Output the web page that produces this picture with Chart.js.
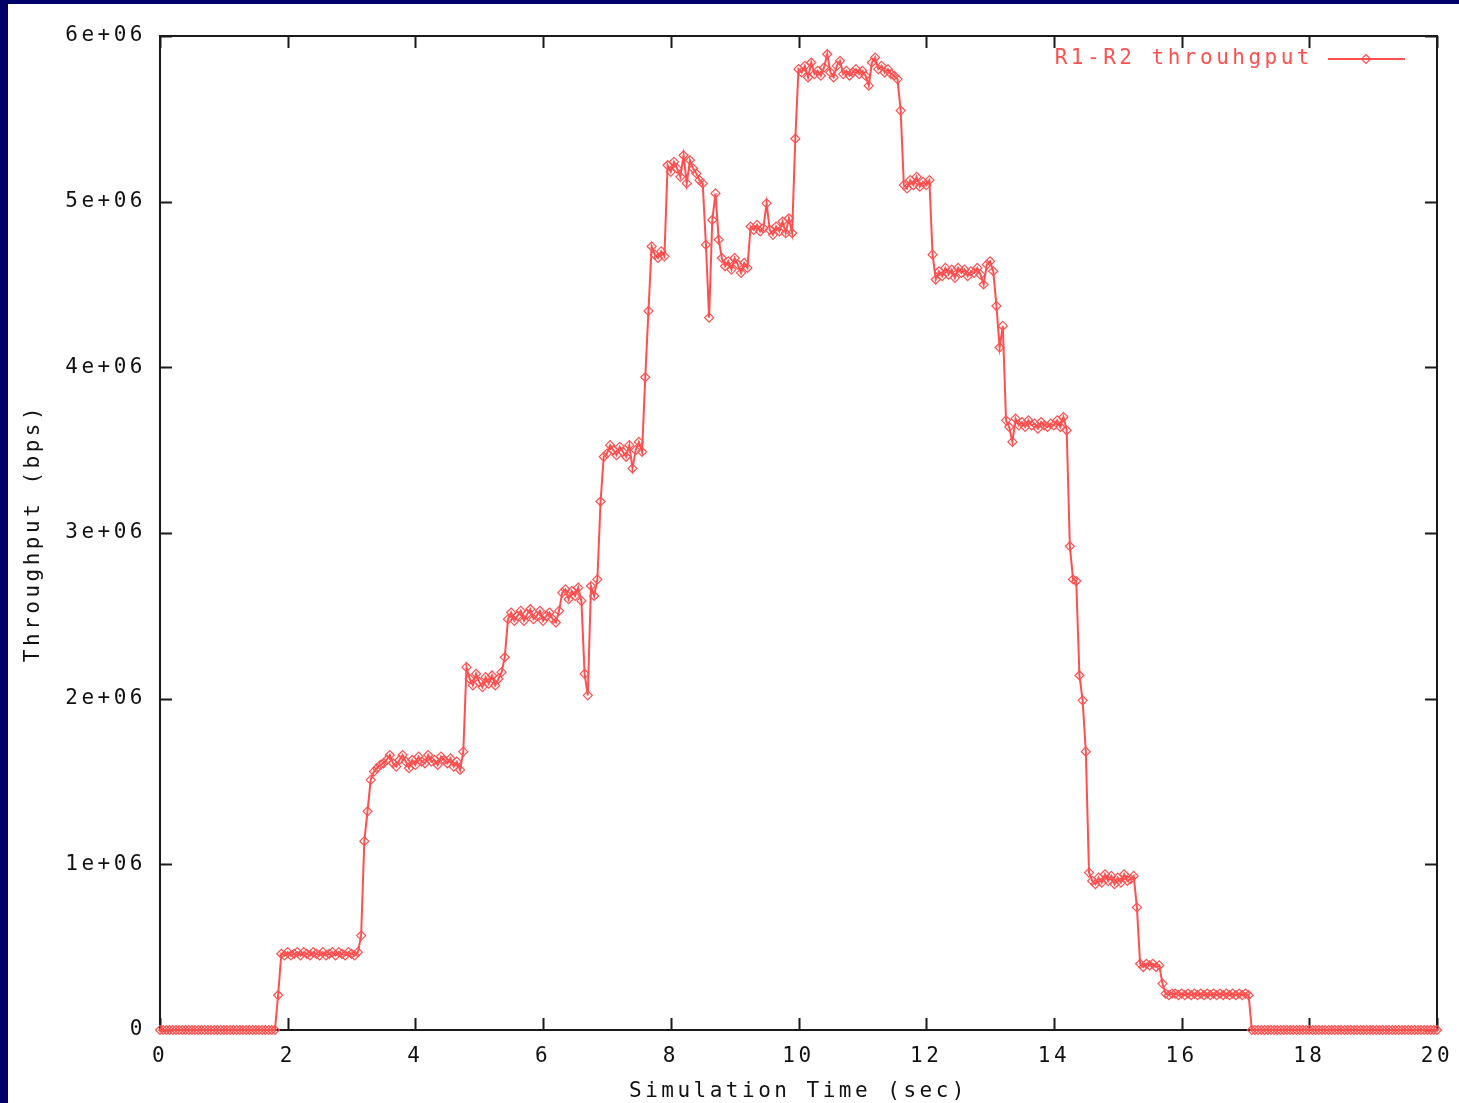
<!DOCTYPE html>
<html lang="en">
  <head>
    <meta charset="UTF-8" />
    <title>R1-R2 throughput</title>
    <script src="https://cdn.jsdelivr.net/npm/chart.js"></script>
    <style>
      html, body {
        margin: 0;
        padding: 0;
        background: #000066;
        overflow: hidden;
      }
      .chart-box {
        position: absolute;
        left: 8px;
        top: 4px;
        width: 1451px;
        height: 1099px;
        background: #fff;
      }
    </style>
  </head>
  <body>
    <div class="chart-box">
      <canvas id="myChart"></canvas>
    </div>
    <script>
      // sample step of the trace (sec)
      const step = 0.05;
      // R1-R2 throughput, in units of 1e6 bps, one row per second
      const throughput = [
        0, 0, 0, 0, 0, 0, 0, 0, 0, 0, 0, 0, 0, 0, 0, 0, 0, 0, 0, 0,
        0, 0, 0, 0, 0, 0, 0, 0, 0, 0, 0, 0, 0, 0, 0, 0, 0, 0.21, 0.46, 0.45,
        0.47, 0.45, 0.46, 0.47, 0.45, 0.47, 0.46, 0.45, 0.47, 0.46, 0.45, 0.47, 0.45, 0.46, 0.47, 0.45, 0.47, 0.46, 0.45, 0.47,
        0.46, 0.45, 0.47, 0.57, 1.14, 1.32, 1.51, 1.56, 1.58, 1.60, 1.61, 1.63, 1.66, 1.61, 1.59, 1.63, 1.66, 1.62, 1.58, 1.63,
        1.60, 1.65, 1.62, 1.61, 1.66, 1.62, 1.63, 1.60, 1.65, 1.63, 1.61, 1.64, 1.59, 1.62, 1.57, 1.68, 2.19, 2.12, 2.08, 2.15,
        2.10, 2.07, 2.13, 2.09, 2.14, 2.08, 2.12, 2.16, 2.25, 2.48, 2.52, 2.47, 2.50, 2.53, 2.47, 2.51, 2.54, 2.48, 2.50, 2.53,
        2.47, 2.50, 2.52, 2.48, 2.46, 2.53, 2.64, 2.66, 2.60, 2.65, 2.62, 2.67, 2.59, 2.15, 2.02, 2.68, 2.62, 2.72, 3.19, 3.46,
        3.48, 3.53, 3.50, 3.47, 3.52, 3.49, 3.46, 3.53, 3.39, 3.50, 3.55, 3.49, 3.94, 4.34, 4.73, 4.68, 4.66, 4.70, 4.67, 5.22,
        5.18, 5.24, 5.20, 5.15, 5.28, 5.11, 5.25, 5.20, 5.17, 5.13, 5.11, 4.74, 4.30, 4.89, 5.05, 4.77, 4.66, 4.61, 4.64, 4.59,
        4.66, 4.62, 4.57, 4.63, 4.60, 4.85, 4.83, 4.86, 4.82, 4.84, 4.99, 4.83, 4.80, 4.85, 4.82, 4.88, 4.81, 4.90, 4.81, 5.38,
        5.80, 5.78, 5.82, 5.75, 5.84, 5.77, 5.79, 5.76, 5.81, 5.89, 5.78, 5.75, 5.82, 5.85, 5.77, 5.79, 5.76, 5.78, 5.80, 5.77,
        5.79, 5.76, 5.70, 5.84, 5.87, 5.80, 5.82, 5.78, 5.80, 5.77, 5.76, 5.74, 5.55, 5.10, 5.08, 5.13, 5.10, 5.15, 5.09, 5.12,
        5.10, 5.13, 4.68, 4.53, 4.58, 4.55, 4.60, 4.56, 4.59, 4.54, 4.60, 4.57, 4.59, 4.55, 4.58, 4.57, 4.60, 4.56, 4.50, 4.62,
        4.64, 4.58, 4.37, 4.12, 4.25, 3.68, 3.64, 3.55, 3.69, 3.65, 3.67, 3.64, 3.68, 3.65, 3.66, 3.63, 3.67, 3.65, 3.64, 3.66,
        3.65, 3.68, 3.64, 3.70, 3.62, 2.92, 2.72, 2.71, 2.14, 1.99, 1.68, 0.95, 0.90, 0.88, 0.92, 0.89, 0.94, 0.90, 0.93, 0.88,
        0.92, 0.89, 0.94, 0.90, 0.91, 0.93, 0.74, 0.40, 0.38, 0.40, 0.39, 0.40, 0.38, 0.39, 0.28, 0.22, 0.21, 0.22, 0.22, 0.21,
        0.22, 0.21, 0.22, 0.21, 0.22, 0.21, 0.22, 0.21, 0.22, 0.21, 0.22, 0.21, 0.22, 0.21, 0.22, 0.21, 0.22, 0.21, 0.22, 0.21,
        0.22, 0.21, 0, 0, 0, 0, 0, 0, 0, 0, 0, 0, 0, 0, 0, 0, 0, 0, 0, 0,
        0, 0, 0, 0, 0, 0, 0, 0, 0, 0, 0, 0, 0, 0, 0, 0, 0, 0, 0, 0,
        0, 0, 0, 0, 0, 0, 0, 0, 0, 0, 0, 0, 0, 0, 0, 0, 0, 0, 0, 0,
        0,
      ];
      const seriesName = "R1-R2 throuhgput";
      const xTitle = "Simulation Time (sec)";
      const yTitle = "Throughput (bps)";

      const red = "#ff4f4f";
      const monoFont = "'DejaVu Sans Mono', 'Liberation Mono', monospace";

      const points = throughput.map((v, i) => ({ x: +(i * step).toFixed(2), y: v * 1e6 }));

      // gnuplot style frame: border, inward ticks on all four sides, key at top right
      const gnuplotFrame = {
        id: "gnuplotFrame",
        beforeDraw(chart) {
          chart.ctx.letterSpacing = "3.5px";
        },
        beforeDatasetsDraw(chart) {
          const { ctx, chartArea: a, scales } = chart;
          ctx.save();
          ctx.strokeStyle = "#1a1a1a";
          ctx.lineWidth = 2;
          ctx.strokeRect(a.left, a.top, a.right - a.left, a.bottom - a.top);
          ctx.beginPath();
          scales.x.ticks.forEach(function (t) {
            const px = Math.round(scales.x.getPixelForValue(t.value)) + 0.5;
            ctx.moveTo(px, a.bottom);
            ctx.lineTo(px, a.bottom - 12);
            ctx.moveTo(px, a.top);
            ctx.lineTo(px, a.top + 12);
          });
          scales.y.ticks.forEach(function (t) {
            const py = Math.round(scales.y.getPixelForValue(t.value)) + 0.5;
            ctx.moveTo(a.left, py);
            ctx.lineTo(a.left + 12, py);
            ctx.moveTo(a.right, py);
            ctx.lineTo(a.right - 12, py);
          });
          ctx.stroke();
          ctx.restore();
        },
        afterDraw(chart) {
          const { ctx, chartArea: a } = chart;
          ctx.save();
          ctx.font = "21px " + monoFont;
          ctx.fillStyle = red;
          ctx.textAlign = "right";
          ctx.textBaseline = "middle";
          const ky = a.top + 23;
          ctx.fillText(seriesName, a.right - 124, ky);
          ctx.strokeStyle = red;
          ctx.lineWidth = 2;
          ctx.beginPath();
          ctx.moveTo(a.right - 109, ky);
          ctx.lineTo(a.right - 32, ky);
          ctx.stroke();
          const cx = a.right - 71;
          ctx.beginPath();
          ctx.moveTo(cx, ky - 4.5);
          ctx.lineTo(cx + 4.5, ky);
          ctx.lineTo(cx, ky + 4.5);
          ctx.lineTo(cx - 4.5, ky);
          ctx.closePath();
          ctx.lineWidth = 1.2;
          ctx.stroke();
          ctx.restore();
        },
      };

      const ctx = document.getElementById("myChart");
      const myChart = new Chart(ctx, {
        type: "line",
        data: {
          datasets: [
            {
              label: seriesName,
              data: points,
              borderColor: red,
              borderWidth: 2,
              pointStyle: "rectRot",
              pointRadius: 4.5,
              pointBorderWidth: 1.2,
              pointBorderColor: red,
              pointBackgroundColor: "rgba(0,0,0,0)",
              tension: 0,
              clip: false,
            },
          ],
        },
        options: {
          responsive: true,
          maintainAspectRatio: false,
          animation: false,
          devicePixelRatio: 1,
          layout: {
            padding: { top: 32, right: 22, left: 0, bottom: 0 },
          },
          plugins: {
            legend: { display: false },
            tooltip: { enabled: false },
          },
          scales: {
            x: {
              type: "linear",
              min: 0,
              max: 20,
              afterFit: function (scale) {
                scale.height = 73;
                scale.paddingLeft = 0;
                scale.paddingRight = 0;
              },
              border: { display: false },
              grid: { display: false, drawTicks: false },
              ticks: {
                stepSize: 2,
                maxRotation: 0,
                padding: 14,
                color: "#111",
                font: { family: monoFont, size: 21 },
              },
              title: {
                display: true,
                text: xTitle,
                color: "#111",
                font: { family: monoFont, size: 21, lineHeight: 1.05 },
                padding: { top: 0, bottom: 0 },
              },
            },
            y: {
              min: 0,
              max: 6e6,
              afterFit: function (scale) {
                scale.width = 152;
              },
              border: { display: false },
              grid: { display: false, drawTicks: false },
              ticks: {
                stepSize: 1e6,
                padding: 14,
                color: "#111",
                font: { family: monoFont, size: 21 },
                callback: function (v) {
                  return v === 0 ? "0" : v / 1e6 + "e+06";
                },
              },
              title: {
                display: true,
                text: yTitle,
                color: "#111",
                font: { family: monoFont, size: 21, lineHeight: 1.2 },
                padding: { top: 13, bottom: 0 },
              },
            },
          },
        },
        plugins: [gnuplotFrame],
      });
    </script>
  </body>
</html>
